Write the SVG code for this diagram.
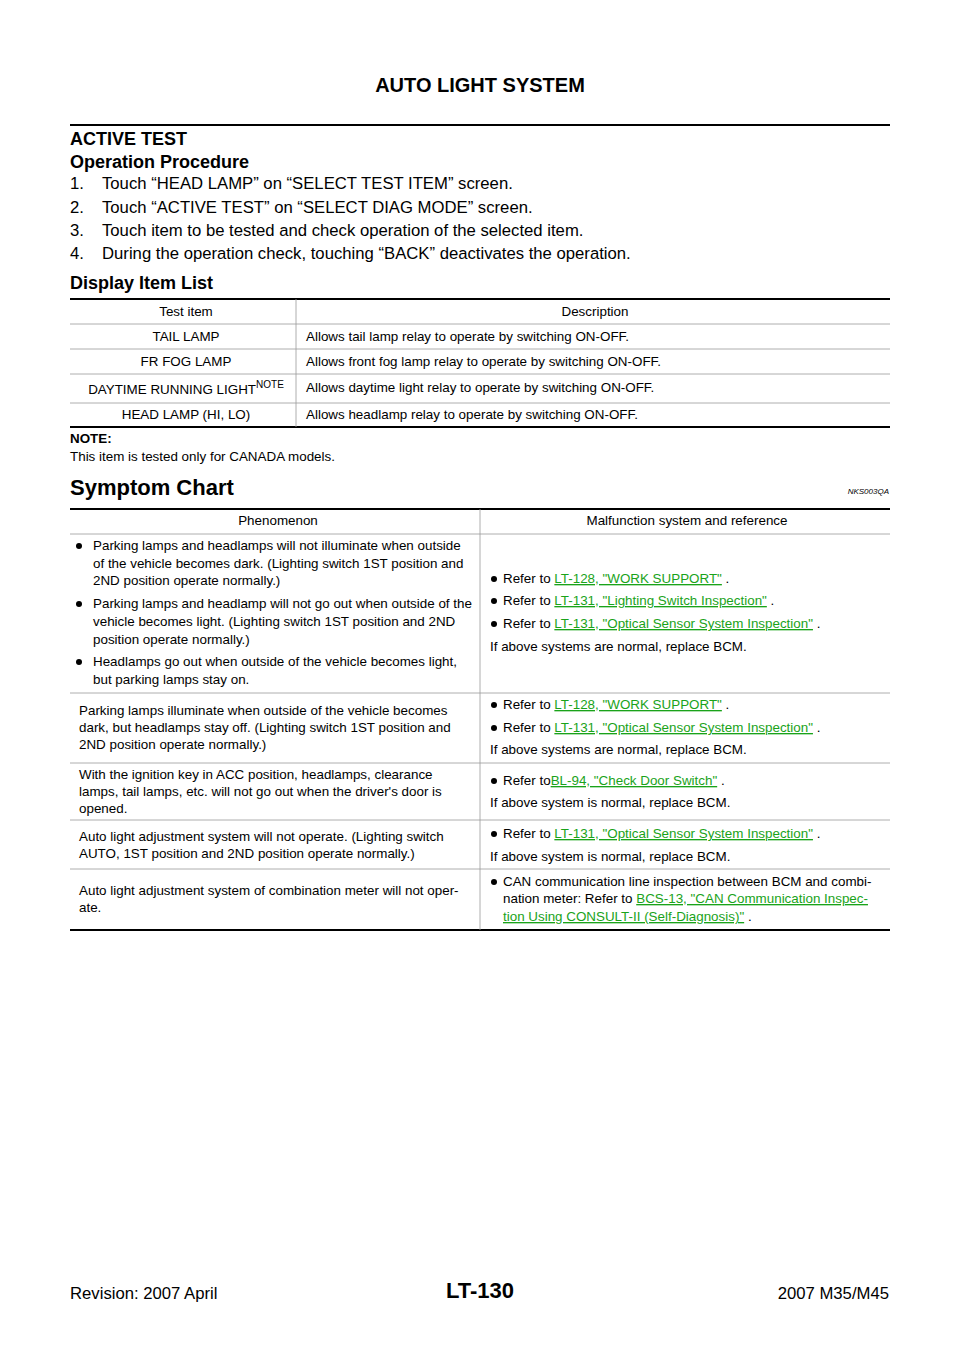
<svg xmlns="http://www.w3.org/2000/svg" width="960" height="1358" viewBox="0 0 960 1358">
<style>
text{font-family:"Liberation Sans",Arial,sans-serif;fill:#000}
.h{font-weight:bold;font-size:18px}
.p{font-size:16.7px}
.t{font-size:13.4px}
.c{text-anchor:middle}
.a{fill:#1aa31a;text-decoration:underline}
.thick{stroke:#000;stroke-width:2}
.thin{stroke:#999;stroke-width:0.8}
</style>
<rect width="960" height="1358" fill="#fff"/>
<text x="480" y="92" class="c" style="font-weight:bold;font-size:20px">AUTO LIGHT SYSTEM</text>
<line x1="70" y1="125" x2="890" y2="125" class="thick"/>
<text x="70" y="145" class="h">ACTIVE TEST</text>
<text x="70" y="168" class="h">Operation Procedure</text>
<text x="70" y="189" class="p">1.</text><text x="102" y="189" class="p">Touch “HEAD LAMP” on “SELECT TEST ITEM” screen.</text>
<text x="70" y="213" class="p">2.</text><text x="102" y="213" class="p">Touch “ACTIVE TEST” on “SELECT DIAG MODE” screen.</text>
<text x="70" y="236" class="p">3.</text><text x="102" y="236" class="p">Touch item to be tested and check operation of the selected item.</text>
<text x="70" y="259" class="p">4.</text><text x="102" y="259" class="p">During the operation check, touching “BACK” deactivates the operation.</text>
<text x="70" y="289" class="h">Display Item List</text>
<g id="table1">
<line x1="70" y1="299" x2="890" y2="299" class="thick"/>
<line x1="70" y1="324" x2="890" y2="324" class="thin"/>
<line x1="70" y1="349" x2="890" y2="349" class="thin"/>
<line x1="70" y1="374" x2="890" y2="374" class="thin"/>
<line x1="70" y1="403" x2="890" y2="403" class="thin"/>
<line x1="70" y1="427" x2="890" y2="427" class="thick"/>
<line x1="296" y1="299" x2="296" y2="427" class="thin"/>
<text x="186" y="316" class="t c">Test item</text>
<text x="595" y="316" class="t c">Description</text>
<text x="186" y="341" class="t c">TAIL LAMP</text>
<text x="186" y="366" class="t c">FR FOG LAMP</text>
<text x="186" y="394" class="t c">DAYTIME RUNNING LIGHT<tspan dy="-6" style="font-size:10px">NOTE</tspan></text>
<text x="186" y="419" class="t c">HEAD LAMP (HI, LO)</text>
<text x="306" y="341" class="t">Allows tail lamp relay to operate by switching ON-OFF.</text>
<text x="306" y="366" class="t">Allows front fog lamp relay to operate by switching ON-OFF.</text>
<text x="306" y="392" class="t">Allows daytime light relay to operate by switching ON-OFF.</text>
<text x="306" y="419" class="t">Allows headlamp relay to operate by switching ON-OFF.</text>
</g>
<text x="70" y="443" class="t" style="font-weight:bold">NOTE:</text>
<text x="70" y="461" class="t">This item is tested only for CANADA models.</text>
<text x="70" y="495" style="font-weight:bold;font-size:22px">Symptom Chart</text>
<text x="889" y="494" style="font-style:italic;font-size:8px;text-anchor:end">NKS003QA</text>
<g id="table2">
<line x1="70" y1="509" x2="890" y2="509" class="thick"/>
<line x1="70" y1="534" x2="890" y2="534" class="thin"/>
<line x1="70" y1="693" x2="890" y2="693" class="thin"/>
<line x1="70" y1="763" x2="890" y2="763" class="thin"/>
<line x1="70" y1="820" x2="890" y2="820" class="thin"/>
<line x1="70" y1="869" x2="890" y2="869" class="thin"/>
<line x1="70" y1="930" x2="890" y2="930" class="thick"/>
<line x1="480" y1="509" x2="480" y2="930" class="thin"/>
<text x="278" y="525" class="t c">Phenomenon</text>
<text x="687" y="525" class="t c">Malfunction system and reference</text>
<circle cx="79" cy="546" r="3"/>
<text x="93" y="550" class="t">Parking lamps and headlamps will not illuminate when outside</text>
<text x="93" y="568" class="t">of the vehicle becomes dark. (Lighting switch 1ST position and</text>
<text x="93" y="585" class="t">2ND position operate normally.)</text>
<circle cx="79" cy="604" r="3"/>
<text x="93" y="608" class="t">Parking lamps and headlamp will not go out when outside of the</text>
<text x="93" y="626" class="t">vehicle becomes light. (Lighting switch 1ST position and 2ND</text>
<text x="93" y="644" class="t">position operate normally.)</text>
<circle cx="79" cy="662" r="3"/>
<text x="93" y="666" class="t">Headlamps go out when outside of the vehicle becomes light,</text>
<text x="93" y="684" class="t">but parking lamps stay on.</text>
<circle cx="494" cy="579" r="3"/>
<text x="503" y="583" class="t">Refer to <tspan class="a">LT-128, "WORK SUPPORT"</tspan> .</text>
<circle cx="494" cy="601" r="3"/>
<text x="503" y="605" class="t">Refer to <tspan class="a">LT-131, "Lighting Switch Inspection"</tspan> .</text>
<circle cx="494" cy="624" r="3"/>
<text x="503" y="628" class="t">Refer to <tspan class="a">LT-131, "Optical Sensor System Inspection"</tspan> .</text>
<text x="490" y="651" class="t">If above systems are normal, replace BCM.</text>
<text x="79" y="715" class="t">Parking lamps illuminate when outside of the vehicle becomes</text>
<text x="79" y="732" class="t">dark, but headlamps stay off. (Lighting switch 1ST position and</text>
<text x="79" y="749" class="t">2ND position operate normally.)</text>
<circle cx="494" cy="705" r="3"/>
<text x="503" y="709" class="t">Refer to <tspan class="a">LT-128, "WORK SUPPORT"</tspan> .</text>
<circle cx="494" cy="728" r="3"/>
<text x="503" y="732" class="t">Refer to <tspan class="a">LT-131, "Optical Sensor System Inspection"</tspan> .</text>
<text x="490" y="754" class="t">If above systems are normal, replace BCM.</text>
<text x="79" y="779" class="t">With the ignition key in ACC position, headlamps, clearance</text>
<text x="79" y="796" class="t">lamps, tail lamps, etc. will not go out when the driver's door is</text>
<text x="79" y="813" class="t">opened.</text>
<circle cx="494" cy="781" r="3"/>
<text x="503" y="785" class="t">Refer to<tspan class="a">BL-94, "Check Door Switch"</tspan> .</text>
<text x="490" y="807" class="t">If above system is normal, replace  BCM.</text>
<text x="79" y="841" class="t">Auto light adjustment system will not operate. (Lighting switch</text>
<text x="79" y="858" class="t">AUTO, 1ST position and 2ND position operate normally.)</text>
<circle cx="494" cy="834" r="3"/>
<text x="503" y="838" class="t">Refer to <tspan class="a">LT-131, "Optical Sensor System Inspection"</tspan> .</text>
<text x="490" y="861" class="t">If above system is normal, replace  BCM.</text>
<text x="79" y="895" class="t">Auto light adjustment system of combination meter will not oper-</text>
<text x="79" y="912" class="t">ate.</text>
<circle cx="494" cy="882" r="3"/>
<text x="503" y="886" class="t">CAN communication line inspection between BCM and combi-</text>
<text x="503" y="903" class="t">nation meter: Refer to <tspan class="a">BCS-13, "CAN Communication Inspec-</tspan></text>
<text x="503" y="921" class="t"><tspan class="a">tion Using CONSULT-II (Self-Diagnosis)"</tspan> .</text>
</g>
<text x="70" y="1299" class="p">Revision: 2007 April</text>
<text x="480" y="1298" class="c" style="font-weight:bold;font-size:22px">LT-130</text>
<text x="889" y="1299" class="p" style="text-anchor:end">2007 M35/M45</text>
</svg>
